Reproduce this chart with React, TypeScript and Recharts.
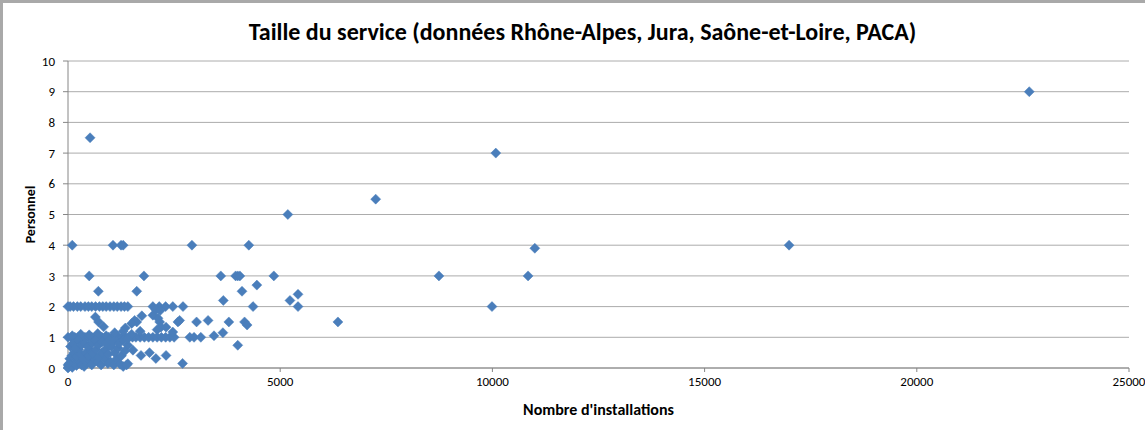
import React from "react";
import { ScatterChart, Scatter, XAxis, YAxis, CartesianGrid } from "recharts";

const titleText = "Taille du service (données Rhône-Alpes, Jura, Saône-et-Loire, PACA)";
const xAxisTitle = "Nombre d'installations";
const yAxisTitle = "Personnel";
const xTicks = [0, 5000, 10000, 15000, 20000, 25000];
const yTicks = [0, 1, 2, 3, 4, 5, 6, 7, 8, 9, 10];

// services with exactly 4, 3, 2 and 1 staff (installations)
const staff4 = [100, 1060, 1250, 1300, 2920, 4260, 16990];
const staff3 = [500, 1790, 3600, 3950, 4000, 4050, 4850, 8740, 10840];
const staff2 = [0, 50, 130, 220, 300, 400, 480, 560, 650, 740, 820, 900, 990, 1080, 1160, 1250, 1330, 1410, 2000, 2150, 2300, 2470, 2710, 4360, 5420, 9990];
const staff1 = [0, 80, 160, 240, 320, 400, 480, 560, 640, 720, 800, 880, 960, 1040, 1120, 1200, 1280, 1360, 1440, 1520, 1600, 1700, 1800, 1900, 2000, 2100, 2200, 2300, 2400, 2500, 2870, 2970, 3130];

// other services
const otherInstallations = [
  22650, 520, 10080, 7250, 5180, 11000, 6360, 5420, 5230, 4450, 4100, 715, 1620, 3660, 4000,
  3030, 3300, 3790, 4160, 4220, 3440, 3650, 2630, 2590, 2700, 2310, 2070, 1920, 1720, 1530, 1410, 1410,
  1570, 2000, 2160, 2190, 2310, 2470, 2070, 2120, 2170, 645, 720, 840, 1620, 1740, 1350, 1500,
  100, 300, 500, 700, 900, 1100, 1300, 1500, 1700, 2100,
  20, 60, 100, 150, 200, 260, 320, 380, 440, 500, 560, 620, 700, 780, 860, 940, 1000, 1080, 1150, 1230, 1300, 1380,
  40, 90, 140, 200, 250, 300, 360, 420, 480, 540, 600, 660, 720, 800, 880, 950, 1020, 1100, 1180, 1260, 1340,
  60, 120, 180, 240, 320, 400, 470, 560, 640, 720, 800, 900, 980, 1060, 1200, 1300, 1400,
  0, 0, 30,
];
const otherPersonnel = [
  9, 7.5, 7, 5.5, 5, 3.9, 1.5, 2.4, 2.2, 2.7, 2.5, 2.5, 2.5, 2.2, 0.74,
  1.5, 1.55, 1.5, 1.5, 1.4, 1.05, 1.15, 1.55, 1.5, 0.15, 0.41, 0.31, 0.5, 0.41, 0.58, 0.74, 0.14,
  1.55, 1.72, 1.5, 1.33, 1.33, 1.17, 1.9, 1.62, 1.87, 1.66, 1.5, 1.34, 1.5, 1.7, 1.3, 1.45,
  1.05, 1.1, 1.08, 1.12, 1.05, 1.15, 1.2, 1.1, 1.2, 1.25,
  0.05, 0.1, 0.02, 0.15, 0.08, 0.2, 0.1, 0.05, 0.15, 0.25, 0.1, 0.3, 0.2, 0.1, 0.3, 0.15, 0.2, 0.1, 0.3, 0.12, 0.05, 0.1,
  0.3, 0.4, 0.5, 0.35, 0.6, 0.45, 0.3, 0.5, 0.4, 0.55, 0.45, 0.6, 0.35, 0.5, 0.6, 0.45, 0.7, 0.5, 0.65, 0.4, 0.55,
  0.7, 0.8, 0.65, 0.9, 0.75, 0.8, 0.7, 0.8, 0.9, 0.75, 0.85, 0.8, 0.9, 0.85, 0.8, 0.9, 0.95,
  0, 0.1, 0.15,
];

const data = [
  ...staff4.map((x) => ({ x, y: 4 })),
  ...staff3.map((x) => ({ x, y: 3 })),
  ...staff2.map((x) => ({ x, y: 2 })),
  ...staff1.map((x) => ({ x, y: 1 })),
  ...otherInstallations.map((x, i) => ({ x, y: otherPersonnel[i] })),
];

const FONT = "Carlito, Calibri, 'Liberation Sans Narrow', 'Open Sans', sans-serif";
const MARKER = "#4a7ebb";

const Diamond = (props: any) => {
  const { cx, cy } = props;
  if (cx == null || cy == null) return null;
  const r = 5;
  return (
    <path
      d={`M${cx},${cy - r}L${cx + r},${cy}L${cx},${cy + r}L${cx - r},${cy}Z`}
      fill={MARKER}
      stroke={MARKER}
      strokeWidth={0.5}
    />
  );
};

const YLabel = (props: any) => {
  const vb = props.viewBox || { x: 0, y: 0, width: 68, height: 307 };
  const x = vb.x + 30;
  const y = vb.y + vb.height / 2;
  return (
    <text
      x={x}
      y={y}
      transform={`rotate(-90 ${x} ${y})`}
      textAnchor="middle"
      dominantBaseline="central"
      fontFamily={FONT}
      fontWeight="bold"
      fontSize={14}
      fill="#000"
    >
      {yAxisTitle}
    </text>
  );
};

export default function App() {
  return (
    <div style={{ position: "absolute", left: 0, top: 0, width: 1145, height: 430, background: "#fff" }}>
      <div style={{ position: "absolute", left: 0, top: 0, width: 1145, height: 3, background: "#a9a9a9" }} />
      <div style={{ position: "absolute", left: 0, top: 0, width: 3, height: 430, background: "#a9a9a9" }} />
      <div
        style={{
          position: "absolute",
          left: 0,
          top: 16,
          width: 1165,
          textAlign: "center",
          fontFamily: FONT,
          fontWeight: "bold",
          fontSize: 24,
          color: "#000",
          lineHeight: "32px",
        }}
      >
        {titleText}
      </div>
      <ScatterChart width={1145} height={430} margin={{ top: 61, right: 16, bottom: 0, left: 0 }}>
        <CartesianGrid vertical={false} stroke="#acacac" strokeWidth={1} />
        <XAxis
          type="number"
          dataKey="x"
          domain={[0, 25000]}
          ticks={xTicks}
          interval={0}
          height={62}
          tickSize={4}
          tickMargin={5}
          axisLine={{ stroke: "#868686" }}
          tickLine={{ stroke: "#868686" }}
          tick={{ fill: "#000", fontSize: 13, fontFamily: FONT }}
          label={{
            value: xAxisTitle,
            position: "insideBottom",
            offset: 15,
            style: { fontFamily: FONT, fontWeight: "bold", fontSize: 16, fill: "#000" },
          }}
        />
        <YAxis
          type="number"
          dataKey="y"
          domain={[0, 10]}
          ticks={yTicks}
          interval={0}
          width={68}
          tickSize={5}
          tickMargin={8}
          axisLine={{ stroke: "#868686" }}
          tickLine={{ stroke: "#868686" }}
          tick={{ fill: "#000", fontSize: 13, fontFamily: FONT }}
          label={<YLabel />}
        />
        <Scatter data={data} shape={<Diamond />} isAnimationActive={false} />
      </ScatterChart>
    </div>
  );
}
